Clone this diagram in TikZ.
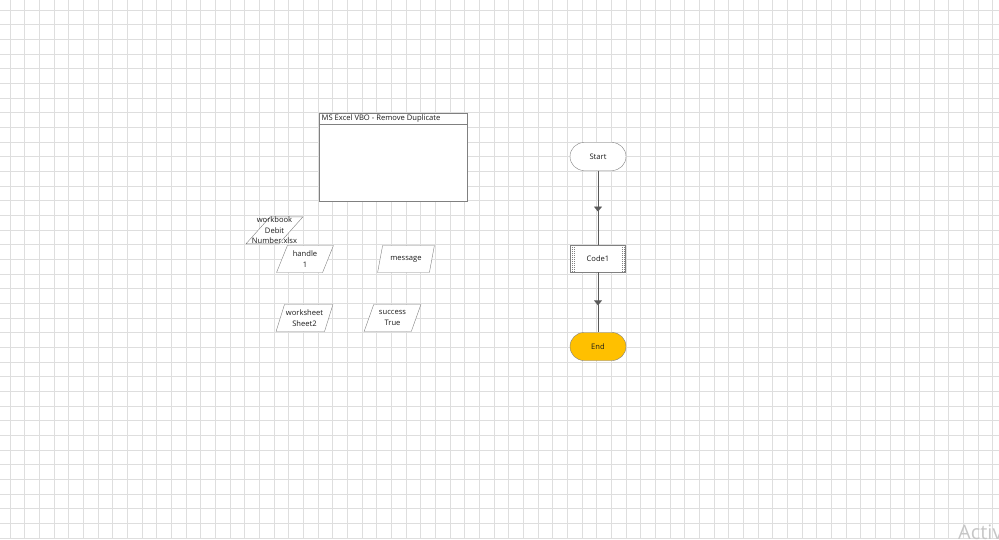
\documentclass[tikz,border=0pt]{standalone}
\usepackage{fontspec}
\setmainfont{Open Sans}
\usetikzlibrary{shapes.geometric, arrows.meta, decorations.markings}
\definecolor{gridgray}{HTML}{DEDEDE}
\definecolor{edgegray}{HTML}{808080}
\definecolor{linkgray}{HTML}{5A5A5A}
\definecolor{endfill}{HTML}{FFC000}
\definecolor{inkgray}{HTML}{1A1A1A}

\begin{document}
\begin{tikzpicture}[
    x=1pt, y=-1pt,
    font=\fontsize{7.6}{10.5}\selectfont,
    text=inkgray,
    gridline/.style={draw=gridgray, line width=1pt},
    stripe/.style={draw=edgegray, line width=0.6pt, dash pattern=on 1pt off 1pt},
    term/.style={
        draw=edgegray, fill=white, rounded corners=14pt,
        minimum width=56pt, minimum height=28pt, inner sep=0pt
    },
    codebox/.style={
        draw=edgegray, fill=white,
        minimum width=55pt, minimum height=27pt, inner sep=0pt
    },
    data/.style={
        trapezium, trapezium left angle=66, trapezium right angle=114,
        trapezium stretches=true, draw=edgegray, fill=white,
        minimum width=57pt, minimum height=27pt, inner sep=1pt, align=center
    },
    arr/.style={
        draw=linkgray, line width=0.8pt, postaction={decorate},
        decoration={markings, mark=at position 0.55 with
            {\arrow[linkgray]{Triangle[width=8pt, length=5pt]}}}
    },
]
\useasboundingbox (0,0) rectangle (999,539);
\fill[white] (0,0) rectangle (999,539);

% Background grid
\foreach \k in {0,...,67}
    \draw[gridline] ({10+14.67*\k}, 0) -- ({10+14.67*\k}, 539);
\foreach \k in {0,...,36}
    \draw[gridline] (0, {10+14.67*\k}) -- (999, {10+14.67*\k});

% Page block
\node[draw=edgegray, fill=white, minimum width=148pt, minimum height=88pt, inner sep=0pt] (vbo) at (393, 157.3) {};
\draw[edgegray] ([yshift=-11pt]vbo.north west) -- ([yshift=-11pt]vbo.north east);
\node[anchor=west, inner sep=0pt] (vbotitle) at (321.5, 119) {MS Excel VBO - Remove Duplicate};

% Data items
\node[data] (workbook) at (274.5, 230.3) {\strut};
\node[align=center, inner sep=0pt] (workbooktext) at (workbook.center) {workbook\\Debit\\Number.xlsx};
\node[data] (handle) at (305, 259) {handle\\1};
\node[data] (message) at (406, 259) {message};
\node[data] (worksheet) at (304.5, 318) {worksheet\\Sheet2};
\node[data] (success) at (392.5, 318) {success\\True};

% Flow: start, code stage, end
\node[term] (start) at (598, 156.5) {Start};
\node[codebox] (code1) at (598, 258.7) {Code1};
\foreach \dx in {1.8, 3.8} {
    \draw[stripe] ([xshift=\dx pt]code1.north west) -- ([xshift=\dx pt]code1.south west);
    \draw[stripe] ([xshift=-\dx pt]code1.north east) -- ([xshift=-\dx pt]code1.south east);
}
\node[term, fill=endfill] (end) at (598, 346.5) {End};

\draw[arr] (start) -- (code1);
\draw[arr] (code1) -- (end);

% Watermark in the corner
\node[anchor=base west, inner sep=0pt, font=\fontsize{20}{24}\selectfont, text=gray!45] (activ) at (958, 539) {Activate Windows};

\end{tikzpicture}
\end{document}
